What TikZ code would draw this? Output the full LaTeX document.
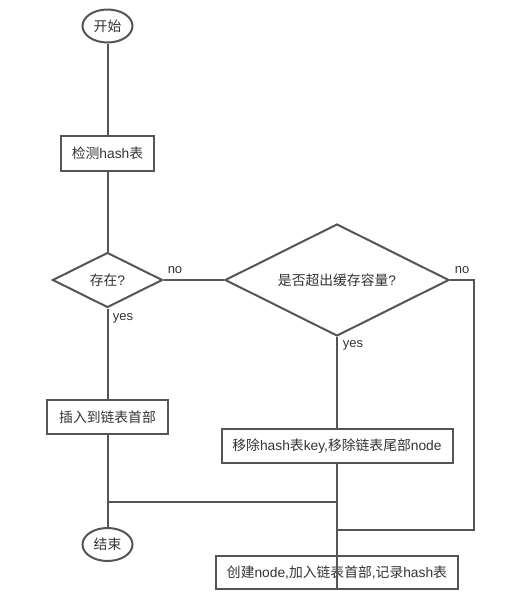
\documentclass[tikz,border=0pt]{standalone}
\usepackage{fontspec}
\setmainfont{Liberation Sans}
\newfontfamily\cjk{Noto Sans CJK SC}
\usetikzlibrary{shapes.geometric}
\definecolor{ln}{HTML}{555555}
\definecolor{tx}{HTML}{333333}
\newcommand{\zh}[1]{{\cjk #1}}
\begin{document}
\begin{tikzpicture}[x=1pt,y=-1pt,
  every node/.style={text=tx,font=\fontsize{13.8}{15}\selectfont},
  term/.style={draw=ln,line width=2pt,ellipse,inner sep=0pt,minimum width=50pt,minimum height=33pt},
  proc/.style={draw=ln,line width=2pt,rectangle,inner sep=0pt},
  dec/.style={draw=ln,line width=2pt,diamond,inner sep=0pt,aspect=2},
  conn/.style={draw=ln,line width=2pt},
  lbl/.style={inner sep=0pt,font=\fontsize{13}{14}\selectfont}]
\useasboundingbox (0,0) rectangle (515,611);
\node[term] (start) at (107.5,26) {\zh{开始}};
\node[proc,minimum width=93pt,minimum height=35pt] (chk) at (107.5,153.5) {\zh{检测}hash\zh{表}};
\node[dec,minimum width=110pt,minimum height=55pt] (ex) at (107.5,280) {\zh{存在}?};
\node[dec,minimum width=224pt,minimum height=112pt] (full) at (337,280) {\zh{是否超出缓存容量}?};
\node[proc,minimum width=121pt,minimum height=34pt] (ins) at (107.5,417) {\zh{插入到链表首部}};
\node[proc,minimum width=231pt,minimum height=34pt] (rm) at (337,446) {\zh{移除}hash\zh{表}key,\zh{移除链表尾部}node};
\node[term] (end) at (107.5,544.5) {\zh{结束}};
\node[proc,minimum width=242pt,minimum height=33pt] (cr) at (337,572.5) {\zh{创建}node,\zh{加入链表首部},\zh{记录}hash\zh{表}};
\node[lbl] (no1) at (175,270) {no};
\node[lbl] (yes1) at (123,318) {yes};
\node[lbl] (no2) at (462,270) {no};
\node[lbl] (yes2) at (353,345) {yes};
\coordinate (jl) at (107.5,502);
\coordinate (jr) at (337,502);
\coordinate (rt) at (474,280);
\coordinate (rb) at (474,530);
\coordinate (rj) at (337,530);
\draw[conn] (start) -- (chk);
\draw[conn] (chk) -- (ex);
\draw[conn] (ex.east) -- (full.west);
\draw[conn] (ex.south) -- (ins.north);
\draw[conn] (ins.south) -- (end.north);
\draw[conn] (full.south) -- (rm.north);
\draw[conn] (rm.south) -- (cr.south);
\draw[conn] (jl) -- (jr);
\draw[conn] (full.east) -- (rt) -- (rb) -- (rj);
\end{tikzpicture}
\end{document}
